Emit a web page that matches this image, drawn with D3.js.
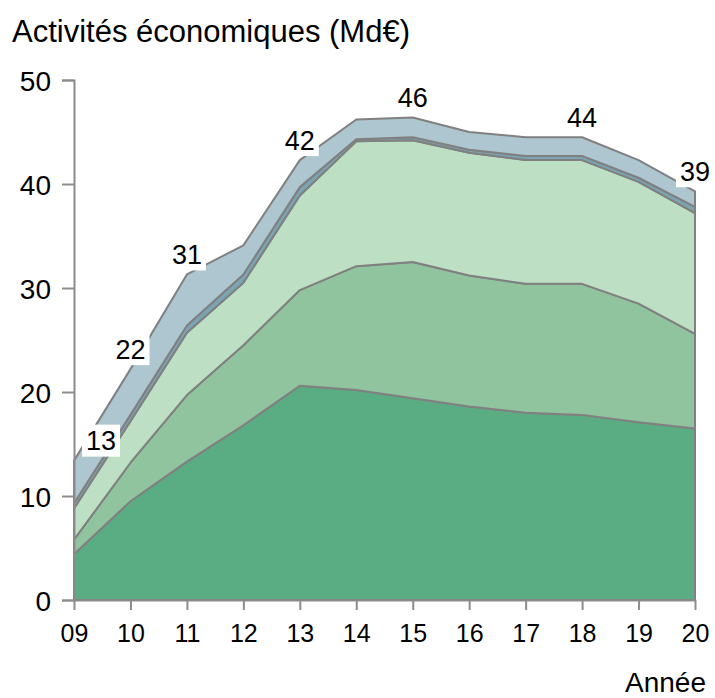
<!DOCTYPE html>
<html>
<head>
<meta charset="utf-8">
<script src="https://cdn.jsdelivr.net/npm/d3@7"></script>
<style>
  body { margin: 0; background: #fff; }
  text { font-family: "Liberation Sans", Arial, sans-serif; fill: #000; }
</style>
</head>
<body>
<div id="chart"></div>
<script>
// Données (Md€) par année, couche par couche (de bas en haut)
const annees = ["09", "10", "11", "12", "13", "14", "15", "16", "17", "18", "19", "20"];
const serie1 = [4.4, 9.5, 13.3, 16.8, 20.6, 20.2, 19.4, 18.6, 18.0, 17.8, 17.1, 16.5];
const serie2 = [1.4, 3.7, 6.4, 7.7, 9.2, 11.9, 13.1, 12.6, 12.4, 12.6, 11.4, 9.1];
const serie3 = [3.0, 4.0, 6.0, 6.0, 9.1, 12.0, 11.7, 11.8, 11.9, 11.9, 11.7, 11.6];
const serie4 = [0.5, 0.6, 0.7, 0.8, 0.8, 0.2, 0.3, 0.3, 0.4, 0.4, 0.4, 0.6];
const serie5 = [4.1, 4.4, 4.9, 2.8, 2.6, 1.9, 1.9, 1.7, 1.8, 1.8, 1.7, 1.5];
const anneesEtiquetees = ["09", "10", "11", "13", "15", "18", "20"];
const yTicks = [0, 10, 20, 30, 40, 50];

const series = [serie1, serie2, serie3, serie4, serie5];
const couleurs = ["#5aac82", "#8fc49f", "#bde0c4", "#7ba4b5", "#adc6cf"];

const width = 715;
const height = 698;
const margin = { top: 80, right: 20, bottom: 98, left: 74 };

const data = annees.map((a, i) => {
    const row = { annee: a };
    series.forEach((s, k) => row["s" + k] = s[i]);
    return row;
});
const keys = series.map((s, k) => "s" + k);
const stacked = d3.stack().keys(keys)(data);

const svg = d3.select("#chart").append("svg")
    .attr("width", width)
    .attr("height", height);

const x = d3.scalePoint()
    .domain(annees)
    .range([margin.left, width - margin.right]);

const y = d3.scaleLinear()
    .domain([0, 50])
    .range([height - margin.bottom, margin.top]);

const area = d3.area()
    .x(d => x(d.data.annee))
    .y0(d => y(d[0]))
    .y1(d => y(d[1]));

// Couches empilées
svg.append("g")
    .selectAll("path")
    .data(stacked)
    .join("path")
    .attr("d", area)
    .attr("fill", (d, i) => couleurs[i])
    .attr("stroke", "#808080")
    .attr("stroke-width", 2)
    .attr("stroke-linejoin", "round");

// Axe Y
const yAxis = d3.axisLeft(y).tickValues(yTicks).tickSize(12).tickPadding(11);
const gy = svg.append("g")
    .attr("transform", `translate(${margin.left},0)`)
    .call(yAxis);
gy.select(".domain").attr("stroke", "#8c8c8c").attr("stroke-width", 2);
gy.selectAll(".tick line").attr("stroke", "#8c8c8c").attr("stroke-width", 2);
gy.selectAll(".tick text").style("font-size", "28px").attr("dy", "0.36em");

// Axe X
const xAxis = d3.axisBottom(x).tickSize(10).tickPadding(14).tickSizeOuter(0);
const gx = svg.append("g")
    .attr("transform", `translate(0,${height - margin.bottom})`)
    .call(xAxis);
gx.select(".domain").attr("stroke", "#8c8c8c").attr("stroke-width", 2);
gx.selectAll(".tick line").attr("stroke", "#8c8c8c").attr("stroke-width", 2);
gx.selectAll(".tick text").style("font-size", "25px");

// Titre et libellé d'axe
svg.append("text")
    .attr("x", 12)
    .attr("y", 42)
    .style("font-size", "31px")
    .text("Activités économiques (Md€)");

svg.append("text")
    .attr("x", 706)
    .attr("y", 692)
    .attr("text-anchor", "end")
    .style("font-size", "28px")
    .text("Année");

// Totaux au-dessus de la pile
const couche = stacked[stacked.length - 1];
const etiquettes = svg.append("g")
    .selectAll("g")
    .data(couche.filter(d => anneesEtiquetees.includes(d.data.annee)))
    .join("g")
    .attr("transform", d => {
        const px = Math.max(x(d.data.annee), margin.left + 27);
        return `translate(${px},${y(d[1]) - 20})`;
    });

etiquettes.each(function(d) {
    const g = d3.select(this);
    const t = g.append("text")
        .attr("text-anchor", "middle")
        .attr("dy", "0.36em")
        .style("font-size", "27px")
        .text(Math.round(d[1]));
    const bb = t.node().getBBox();
    g.insert("rect", "text")
        .attr("x", bb.x - 4)
        .attr("y", -16)
        .attr("width", bb.width + 8)
        .attr("height", 32)
        .attr("fill", "#fff");
});
</script>
</body>
</html>
